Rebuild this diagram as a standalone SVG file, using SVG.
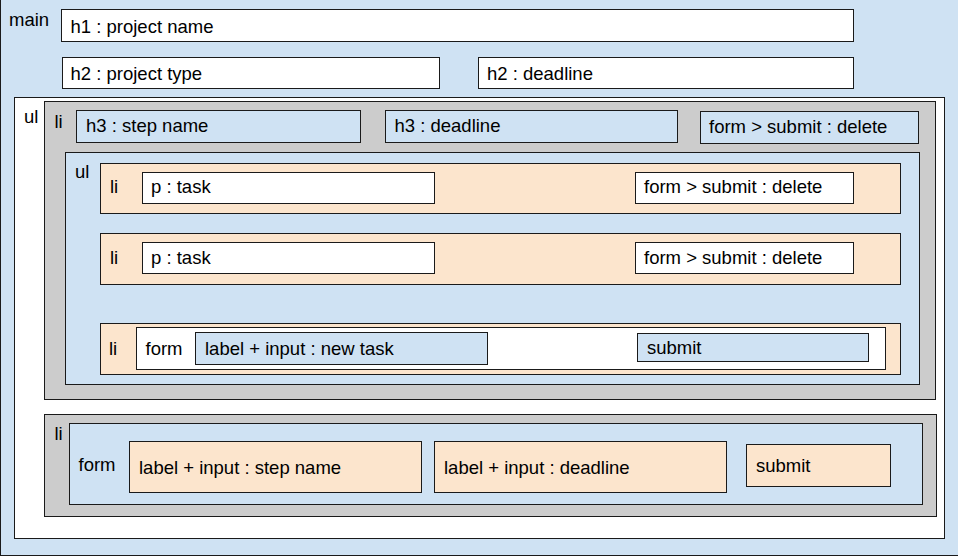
<svg xmlns="http://www.w3.org/2000/svg" width="958" height="558" viewBox="0 0 958 558">
<style>
rect{stroke:#1a1a1a;stroke-width:1}
.blue{fill:#cfe2f3}
.peach{fill:#fce5cd}
.gray{fill:#cccccc}
.white{fill:#ffffff}
text{font-family:"Liberation Sans",Arial,sans-serif;font-size:18.5px;fill:#000}
</style>
<g id="main">
<rect class="blue" x="0.5" y="-1" width="960" height="556.5"/>
<text x="9" y="25.5">main</text>
</g>
<g id="h1">
<rect class="white" x="61.5" y="9.5" width="792" height="32"/>
<text x="70.5" y="32.5">h1 : project name</text>
</g>
<g id="h2-type">
<rect class="white" x="62.5" y="57.5" width="377" height="31"/>
<text x="70.5" y="79.5">h2 : project type</text>
</g>
<g id="h2-deadline">
<rect class="white" x="478.5" y="57.5" width="375" height="31"/>
<text x="487" y="79.5">h2 : deadline</text>
</g>
<g id="ul-steps">
<rect class="white" x="14.5" y="97.5" width="930" height="441"/>
<text x="24" y="122.5">ul</text>
</g>
<g id="li-step">
<rect class="gray" x="44.5" y="101.5" width="891" height="298"/>
<text x="54.5" y="128">li</text>
</g>
<g id="h3-step-name">
<rect class="blue" x="76.5" y="110.5" width="284" height="32"/>
<text x="86" y="131.5">h3 : step name</text>
</g>
<g id="h3-deadline">
<rect class="blue" x="385.5" y="110.5" width="292" height="32"/>
<text x="394.5" y="131.5">h3 : deadline</text>
</g>
<g id="step-delete">
<rect class="blue" x="700.5" y="111.5" width="218" height="32"/>
<text x="709" y="132.5">form &gt; submit : delete</text>
</g>
<g id="ul-tasks">
<rect class="blue" x="65.5" y="152.5" width="854" height="232"/>
<text x="75" y="177.5">ul</text>
</g>
<g id="li-task-1">
<rect class="peach" x="100.5" y="163.5" width="800" height="50"/>
<text x="110" y="193">li</text>
</g>
<g id="p-task-1">
<rect class="white" x="142.5" y="172.5" width="292" height="31"/>
<text x="151" y="193">p : task</text>
</g>
<g id="task-delete-1">
<rect class="white" x="635.5" y="172.5" width="218" height="31"/>
<text x="644" y="193">form &gt; submit : delete</text>
</g>
<g id="li-task-2">
<rect class="peach" x="100.5" y="233.5" width="800" height="51"/>
<text x="110" y="263.5">li</text>
</g>
<g id="p-task-2">
<rect class="white" x="142.5" y="242.5" width="292" height="31"/>
<text x="151" y="263.5">p : task</text>
</g>
<g id="task-delete-2">
<rect class="white" x="635.5" y="242.5" width="218" height="31"/>
<text x="644" y="263.5">form &gt; submit : delete</text>
</g>
<g id="li-new-task">
<rect class="peach" x="100.5" y="323.5" width="800" height="51"/>
<text x="109" y="355">li</text>
</g>
<g id="form-new-task">
<rect class="white" x="136.5" y="327.5" width="749" height="42"/>
<text x="145.5" y="355">form</text>
</g>
<g id="input-new-task">
<rect class="blue" x="195.5" y="332.5" width="292" height="32"/>
<text x="205" y="355">label + input : new task</text>
</g>
<g id="submit-new-task">
<rect class="blue" x="637.5" y="333.5" width="231" height="28"/>
<text x="647" y="354">submit</text>
</g>
<g id="li-new-step">
<rect class="gray" x="44.5" y="414.5" width="892" height="102"/>
<text x="54.5" y="439.5">li</text>
</g>
<g id="form-new-step">
<rect class="blue" x="69.5" y="423.5" width="853" height="81"/>
<text x="78.5" y="471">form</text>
</g>
<g id="input-step-name">
<rect class="peach" x="129.5" y="441.5" width="292" height="51"/>
<text x="139" y="474">label + input : step name</text>
</g>
<g id="input-deadline">
<rect class="peach" x="434.5" y="441.5" width="292" height="51"/>
<text x="444" y="474">label + input : deadline</text>
</g>
<g id="submit-new-step">
<rect class="peach" x="746.5" y="444.5" width="144" height="42"/>
<text x="756" y="472">submit</text>
</g>
<g id="connectors"/>
</svg>
